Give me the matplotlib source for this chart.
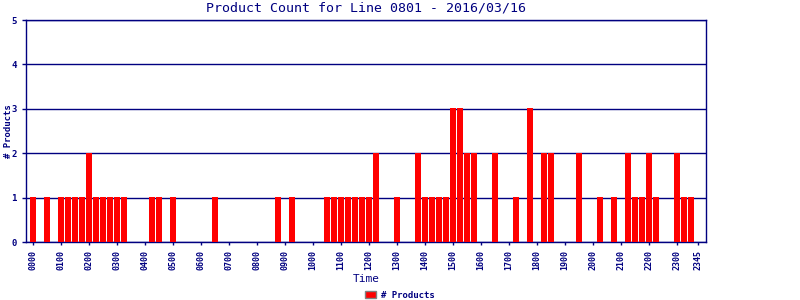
import matplotlib
matplotlib.use("Agg")
import matplotlib.pyplot as plt

# 15-minute slots, 0000 .. 2345
times = ["%02d%02d" % (h, m) for h in range(24) for m in (0, 15, 30, 45)]

counts = [
    1, 0, 1, 0, 1, 1, 1, 1,  2, 1, 1, 1, 1, 1, 0, 0,   # 0000-0345
    0, 1, 1, 0, 1, 0, 0, 0,  0, 0, 1, 0, 0, 0, 0, 0,   # 0400-0745
    0, 0, 0, 1, 0, 1, 0, 0,  0, 0, 1, 1, 1, 1, 1, 1,   # 0800-1145
    1, 2, 0, 0, 1, 0, 0, 2,  1, 1, 1, 1, 3, 3, 2, 2,   # 1200-1545
    0, 0, 2, 0, 0, 1, 0, 3,  0, 2, 2, 0, 0, 0, 2, 0,   # 1600-1945
    0, 1, 0, 1, 0, 2, 1, 1,  2, 1, 0, 0, 2, 1, 1, 0,   # 2000-2345
]

tick_labels = times[::4] + ["2345"]

navy = "#000080"
mono = "DejaVu Sans Mono"

fig = plt.figure(figsize=(8, 3), dpi=100)
ax = fig.add_axes([26 / 800, 58 / 300, 680 / 800, 222 / 300])

x = list(range(len(times)))
# 7 px per slot, bars 6 px wide with a 1 px gap
bars = ax.bar(x, counts, width=6 / 7, color="#ff0000", linewidth=0,
              antialiased=False, snap=False, label="# Products", zorder=3)

ax.set_xlim(-1, -1 + 680 / 7)
ax.set_ylim(0, 5)
ax.set_yticks(range(6))
ax.set_yticklabels([str(v) for v in range(6)], fontsize=6.5, fontweight="bold",
                   color=navy, family=mono)
tick_pos = x[::4] + [95]
ax.set_xticks(tick_pos)
ax.set_xticklabels(tick_labels, rotation=90, fontsize=6, fontweight="bold",
                   color=navy, family=mono)
ax.tick_params(axis="both", colors=navy, length=3, width=1)
ax.tick_params(axis="x", length=2)

ax.grid(axis="y", color=navy, linewidth=1, zorder=1)
for s in ax.spines.values():
    s.set_color(navy)
    s.set_linewidth(1)

ax.set_title("Product Count for Line 0801 - 2016/03/16", color=navy,
             fontsize=9.5, family=mono, pad=6)
ax.set_xlabel("Time", color=navy, fontsize=8, family=mono, labelpad=3)
ax.set_ylabel("# Products", color=navy, fontsize=6.5, fontweight="bold", family=mono)
ax.yaxis.set_label_coords(-13 / 680, 0.5)

leg = fig.legend(handles=[bars], labels=["# Products"], loc="center",
                 bbox_to_anchor=(400 / 800, 5 / 300), frameon=False,
                 prop={"family": mono, "size": 6.5, "weight": "bold"},
                 handlelength=1.2, handleheight=0.8, handletextpad=0.5)
for t in leg.get_texts():
    t.set_color(navy)
for h in leg.legend_handles:
    h.set_edgecolor("#808080")
    h.set_linewidth(1)

fig.savefig("out.png", dpi=100)
